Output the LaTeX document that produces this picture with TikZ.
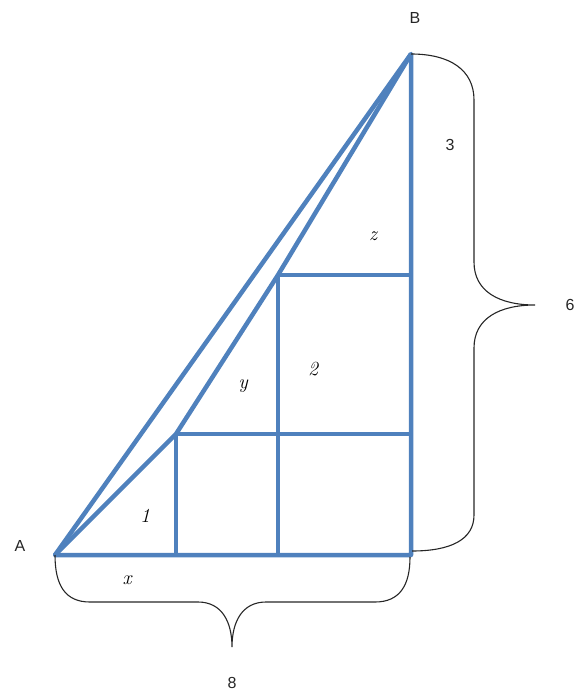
\documentclass[tikz,border=0pt]{standalone}
\usepackage{fontspec}
\newfontfamily\labsans{Liberation Sans}
\begin{document}
\begin{tikzpicture}[x=1pt,y=-1pt,
  blueline/.style={draw=lineblue,line width=4.5pt,line join=round},
  bracestyle/.style={draw=black!85,line width=1.1pt},
  sanslab/.style={font=\labsans\fontsize{16}{16}\selectfont,text=black!85,inner sep=0pt},
  itlab/.style={font=\itshape\fontsize{20}{20}\selectfont,inner sep=0pt}]
\definecolor{lineblue}{RGB}{79,129,189}
\useasboundingbox (0,0) rectangle (574,693);
% points
\coordinate (A) at (55,555);
\coordinate (B) at (411,54);
\coordinate (P1) at (176,434);
\coordinate (P2) at (278,275);
\coordinate (C) at (411,555);
\coordinate (Q1) at (176,555);
\coordinate (Q2) at (278,555);
\coordinate (R1) at (411,434);
\coordinate (R2) at (411,275);
% blue figure
\draw[blueline] (A) -- (C) -- (B) -- cycle;
\draw[blueline] (A) -- (P1) -- (P2) -- (B);
\draw[blueline] (P1) -- (Q1);
\draw[blueline] (P2) -- (Q2);
\draw[blueline] (P1) -- (R1);
\draw[blueline] (P2) -- (R2);
% braces
\draw[bracestyle] (B) .. controls (450,54) and (474,70) .. (474,100) -- (474,262)
  .. controls (474,292) and (500,305) .. (535,305)
  .. controls (500,305) and (474,318) .. (474,348) -- (474,515)
  .. controls (474,540) and (450,551) .. (412,551);
\draw[bracestyle] (A) .. controls (55,585) and (65,602) .. (90,602) -- (198,602)
  .. controls (222,602) and (232,622) .. (232,647)
  .. controls (232,622) and (242,602) .. (266,602) -- (375,602)
  .. controls (400,602) and (410,585) .. (410,557);
% labels
\node[sanslab] (lA) at (20,546) {A};
\node[sanslab] (lB) at (415,18) {B};
\node[sanslab] (l3) at (450,145) {3};
\node[sanslab] (l6) at (570,305) {6};
\node[sanslab] (l8) at (232,683) {8};
\node[itlab] (lz) at (373,236) {z};
\node[itlab] (l2) at (313,369) {2};
\node[itlab] (ly) at (243,386) {y};
\node[itlab] (l1) at (145,516) {1};
\node[itlab] (lx) at (127,580) {x};
\end{tikzpicture}
\end{document}
